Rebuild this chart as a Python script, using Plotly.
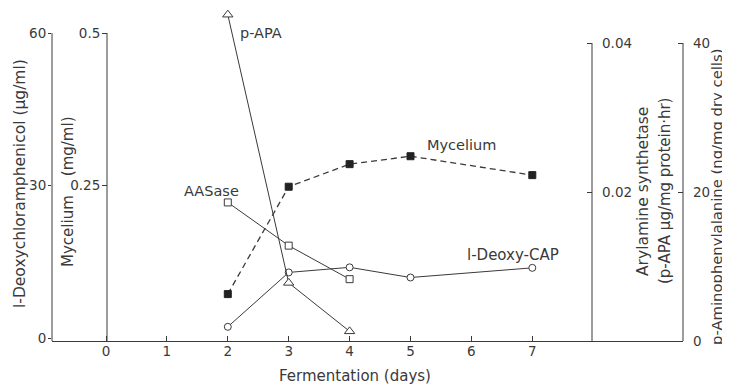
import plotly.graph_objects as go

# ---- data ----
days_cap = [2, 3, 4, 5, 7]
deoxy_cap = [2.2, 12.9, 13.9, 11.9, 13.8]          # ug/ml (left axis, 0-60)
days_myc = [2, 3, 4, 5, 7]
mycelium = [0.072, 0.248, 0.285, 0.298, 0.267]      # mg/ml (0-0.5)
days_aas = [2, 3, 4]
aasase = [0.0186, 0.0128, 0.0083]                   # ug/mg protein.hr (0-0.04)
days_papa = [2, 3, 4]
papa = [43.8, 7.8, 1.3]                             # ng/mg dry cells (0-40)

x_ticks = [0, 1, 2, 3, 4, 5, 6, 7]
cap_ticks = [0, 30, 60]
myc_ticks = [0.25, 0.5]
aas_ticks = [0.02, 0.04]
papa_ticks = [0, 20, 40]

# ---- geometry helpers (pixel layout of the reference, page has 8px body margin) ----
OFF = 8
W, H = 730 - OFF, 384 - OFF
L, R, T, B = 52, 683, 8, 341          # reference-page pixel coords of plot area
def px(xp):
    return (xp - L) / (R - L)
def py(yp):
    return (B - yp) / (B - T)

INK = "#3a3a3a"
FONT = "DejaVu Sans"

# left axes: 0 at y=338, max at y=33 ; right axes: 0 at y=341, max at y=43
def left_range(vmax):
    per = (338 - 33) / vmax
    return [-(B - 338) / per, (338 - T) / per]
def right_range(vmax):
    per = (341 - 43) / vmax
    return [-(B - 341) / per, (341 - T) / per]

fig = go.Figure()

line = dict(color=INK, width=1)
mk = dict(color="white", size=7, line=dict(color=INK, width=1))

fig.add_trace(go.Scatter(x=days_cap, y=deoxy_cap, mode="lines+markers", yaxis="y",
                         line=line, marker=dict(symbol="circle", **mk), cliponaxis=False))
fig.add_trace(go.Scatter(x=days_myc, y=mycelium, mode="lines+markers", yaxis="y2",
                         line=dict(color=INK, width=1.3, dash="6px,4px"),
                         marker=dict(symbol="square", size=7, color="#222",
                                     line=dict(color="#222", width=1)), cliponaxis=False))
fig.add_trace(go.Scatter(x=days_aas, y=aasase, mode="lines+markers", yaxis="y3",
                         line=line, marker=dict(symbol="square", **mk), cliponaxis=False))
fig.add_trace(go.Scatter(x=days_papa, y=papa, mode="lines+markers", yaxis="y4",
                         line=line, marker=dict(symbol="triangle-up", color="white", size=9,
                                                line=dict(color=INK, width=1)), cliponaxis=False))

# day 0 at px 106, 60.9 px per day
d0, dd = 106, 60.9
xr = [(L - d0) / dd, (R - d0) / dd]

tickfont = dict(family=FONT, size=13.5, color=INK)
common = dict(showgrid=False, zeroline=False, tickfont=tickfont,
              tickcolor=INK, tickwidth=1)

fig.update_layout(
    width=W, height=H,
    margin=dict(l=L - OFF, r=730 - R, t=T - OFF, b=384 - B, autoexpand=False),
    paper_bgcolor="white", plot_bgcolor="white",
    showlegend=False,
    font=dict(family=FONT, color=INK),
    xaxis=dict(range=xr, tickvals=x_ticks, ticks="inside", ticklen=5,
               showline=True, linecolor=INK, linewidth=1, ticklabelstandoff=-2, **common),
    yaxis=dict(range=left_range(60), tickvals=cap_ticks, ticks="outside", ticklen=3,
               anchor="x", side="left", ticklabelstandoff=-1, showline=False, **common),
    yaxis2=dict(range=left_range(0.5), tickvals=myc_ticks, ticktext=["0.25", "0.5"],
                ticks="outside", ticklen=5, overlaying="y", anchor="free",
                position=px(107), side="left", ticklabelstandoff=-1, showline=False, **common),
    yaxis3=dict(range=right_range(0.04), tickvals=aas_ticks, ticktext=["0.02", "0.04"],
                ticks="inside", ticklen=5, overlaying="y", anchor="free",
                position=px(592), side="right", ticklabelstandoff=9, showline=False, **common),
    yaxis4=dict(range=right_range(40), tickvals=papa_ticks, ticks="inside", ticklen=5,
                overlaying="y", anchor="x", side="right", ticklabelstandoff=9,
                showline=False, **common),
)

# vertical axis lines (only up to the top tick)
fig.add_shape(type="line", xref="paper", yref="y", x0=0, x1=0,
              y0=left_range(60)[0], y1=60, line=dict(color=INK, width=1))
fig.add_shape(type="line", xref="paper", yref="y2", x0=px(107), x1=px(107),
              y0=left_range(0.5)[0], y1=0.5, line=dict(color=INK, width=1))
fig.add_shape(type="line", xref="paper", yref="y3", x0=px(592), x1=px(592),
              y0=0, y1=0.04, line=dict(color=INK, width=1))
fig.add_shape(type="line", xref="paper", yref="y4", x0=1, x1=1,
              y0=0, y1=40, line=dict(color=INK, width=1))

def ann(text, x, y, xanchor="center", yanchor="middle", angle=0, size=14.5):
    fig.add_annotation(text=text, xref="paper", yref="paper", x=px(x), y=py(y),
                       xanchor=xanchor, yanchor=yanchor, textangle=angle, showarrow=False,
                       font=dict(family=FONT, size=size, color=INK))

NB = "\u00a0"
ann("l-Deoxychloramphenicol (μg/ml)", 20, 184, angle=-90, size=15.5)
ann("Mycelium" + NB * 4 + "(mg/ml)", 68, 192, angle=-90, size=15)
ann("Arylamine synthetase", 643, 192, angle=-90, size=15.5)
ann("(p-APA μg/mg protein·hr)", 665, 191, angle=-90, size=15)
ann("p-Aminophenylalanine (ng/mg dry cells)", 716, 197, angle=-90, size=14.8)
ann("Fermentation (days)", 355, 376, size=15)

ann("p-APA", 238, 33, xanchor="left")
ann("AASase", 182, 191, xanchor="left")
ann("Mycelium", 425, 145, xanchor="left")
ann("l-Deoxy-CAP", 465, 255, xanchor="left", size=15)

fig.write_html("out.html")
